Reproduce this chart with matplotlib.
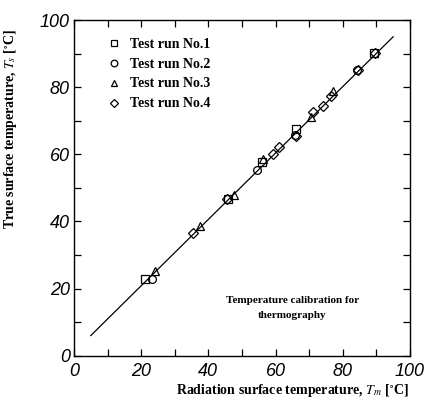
import matplotlib.pyplot as plt
from matplotlib.ticker import MultipleLocator

plt.rcParams['mathtext.fontset'] = 'stix'

# calibration runs: radiation temperature (x) vs true surface temperature (y)
run1_x = [21.0, 45.8, 56.0, 66.2, 89.4]
run1_y = [22.9, 46.8, 57.8, 67.4, 90.1]
run2_x = [23.2, 54.6, 65.8, 84.3]
run2_y = [22.9, 55.4, 65.8, 85.0]
run3_x = [24.1, 37.6, 47.5, 56.4, 70.6, 77.0]
run3_y = [25.3, 38.6, 48.0, 58.5, 71.1, 78.9]
run4_x = [35.3, 45.4, 59.2, 61.0, 66.0, 71.2, 74.0, 76.6, 84.5, 89.6]
run4_y = [36.7, 46.6, 60.2, 62.2, 65.6, 72.6, 74.3, 77.5, 85.0, 90.2]
fit_x = [5, 95]
fit_y = [6, 95]

labels = ['Test run No.1', 'Test run No.2', 'Test run No.3', 'Test run No.4']
serif = ['Liberation Serif', 'DejaVu Serif']

fig = plt.figure(figsize=(4.27, 4.01), dpi=100)
ax = fig.add_axes([0.1733, 0.113, 0.7867, 0.837])

ax.plot(fit_x, fit_y, color='black', lw=0.9, zorder=1)
series = [(run1_x, run1_y, 's'), (run2_x, run2_y, 'o'),
          (run3_x, run3_y, '^'), (run4_x, run4_y, 'D')]
for (xs, ys, m), lab in zip(series, labels):
    ms = 4.8 if m == 'D' else 5.6
    ax.plot(xs, ys, ls='none', marker=m, ms=ms, mfc='none', mec='black',
            mew=0.9, label=lab, zorder=2)

ax.set_xlim(0, 100)
ax.set_ylim(0, 100)
ax.xaxis.set_major_locator(MultipleLocator(20))
ax.yaxis.set_major_locator(MultipleLocator(20))
ax.xaxis.set_minor_locator(MultipleLocator(10))
ax.yaxis.set_minor_locator(MultipleLocator(10))
ax.tick_params(which='both', direction='in', top=True, right=True,
               length=5, width=0.9)
ax.tick_params(axis='x', pad=5)
ax.tick_params(axis='y', pad=3)
for lbl in ax.get_xticklabels() + ax.get_yticklabels():
    lbl.set_fontfamily('Liberation Sans')
    lbl.set_fontstyle('italic')
    lbl.set_fontsize(13)
for s in ax.spines.values():
    s.set_linewidth(1.0)

ax.set_xlabel(r'Radiation surface temperature, $T_m$ [$^{\circ}$C]', family=serif,
              fontweight='bold', fontsize=10)
ax.xaxis.set_label_coords(0.65, -0.078)
ax.set_ylabel(r'True surface temperature, $T_s$ [$^{\circ}$C]', family=serif,
              fontweight='bold', fontsize=10)
ax.yaxis.set_label_coords(-0.164, 0.675)

ax.legend(loc='upper left', bbox_to_anchor=(0.06, 0.985), frameon=False,
          prop={'family': serif, 'weight': 'bold', 'size': 10},
          handletextpad=0.7, labelspacing=0.5, handlelength=1.0,
          markerscale=0.85)

ax.text(65, 14.2, 'Temperature calibration for\nthermography', family=serif,
        fontweight='bold', fontsize=8, ha='center', va='center',
        linespacing=1.9)

plt.savefig('out.png', dpi=100)
